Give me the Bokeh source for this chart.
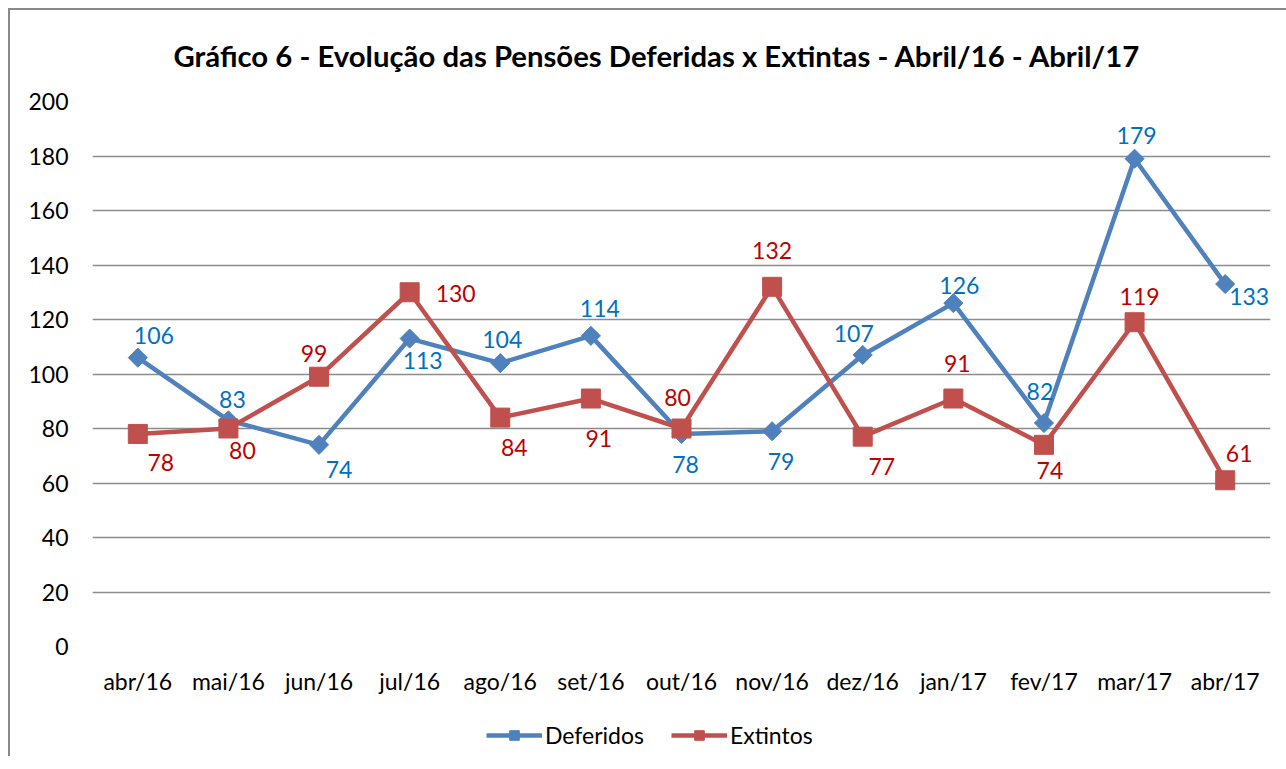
import math
from bokeh.plotting import figure
from bokeh.layouts import column
from bokeh.models import (ColumnDataSource, FactorRange, Range1d, LabelSet, Legend,
                          LegendItem, SingleIntervalTicker)
from bokeh.core.properties import value
from bokeh.embed import file_html
from bokeh.resources import INLINE

# ---- data ----
months = ["abr/16", "mai/16", "jun/16", "jul/16", "ago/16", "set/16", "out/16",
          "nov/16", "dez/16", "jan/17", "fev/17", "mar/17", "abr/17"]
deferidos = [106, 83, 74, 113, 104, 114, 78, 79, 107, 126, 82, 179, 133]
extintos = [78, 80, 99, 130, 84, 91, 80, 132, 77, 91, 74, 119, 61]
series_names = ["Deferidos", "Extintos"]

# label placement (screen px offsets from each point)
def_dx = [16, 4, 20, 13, 2, 9, 4, 9, -9, 6, -4, 2, 24]
def_dy = [22, 21, -25, -22, 24, 27, -31, -30, 21, 18, 32, 23, -12]
ext_dx = [23, 14, -5, 46, 14, 8, -4, 0, 19, 4, 6, 5, 14]
ext_dy = [-29, -22, 23, -1, -30, -40, 31, 36, -30, 35, -26, 26, 27]

BLUE = "#4F81BD"
RED = "#C0504D"
BLUE_TXT = "#0070C0"
RED_TXT = "#C00000"
FONT = "Lato"

src_d = ColumnDataSource(dict(x=months, y=deferidos, t=[str(v) for v in deferidos],
                              dx=def_dx, dy=def_dy))
src_e = ColumnDataSource(dict(x=months, y=extintos, t=[str(v) for v in extintos],
                              dx=ext_dx, dy=ext_dy))

p = figure(frame_width=1178, frame_height=545,
           x_range=FactorRange(*months, range_padding=0),
           y_range=Range1d(0, 200), output_backend="svg", toolbar_location=None,
           min_border_left=82, min_border_right=16, min_border_top=91, min_border_bottom=70)

p.title.text = "Gráfico 6 - Evolução das Pensões Deferidas x Extintas - Abril/16 - Abril/17"
p.title.text_font = FONT
p.title.text_font_size = "29.3px"
p.title.text_font_style = "bold"
p.title.align = "left"
p.title.offset = 81
p.title.vertical_align = "top"
p.title.text_color = "#000000"
p.title.standoff = 54

p.outline_line_color = None
p.background_fill_color = "white"
p.border_fill_color = "white"

p.xgrid.grid_line_color = None
p.ygrid.grid_line_color = "#8C8C8C"
p.ygrid.grid_line_width = 1.6
p.yaxis.ticker = SingleIntervalTicker(interval=20)

for ax in (p.xaxis, p.yaxis):
    ax.axis_line_color = None
    ax.major_tick_line_color = None
    ax.minor_tick_line_color = None
    ax.major_tick_out = 0
    ax.major_tick_in = 0
    ax.major_label_text_font = FONT
    ax.major_label_text_font_size = "23px"
    ax.major_label_text_color = "#000000"
p.yaxis.major_label_standoff = 20
p.xaxis.major_label_standoff = 20

def draw_series(fig, src, color, marker, size, angle):
    ln = fig.line("x", "y", source=src, line_color=color, line_width=4.5)
    sc = fig.scatter("x", "y", source=src, marker=marker, angle=angle, size=size,
                     fill_color=color, line_color=color)
    return ln, sc

draw_series(p, src_d, BLUE, "square", 13.5, math.pi / 4)
draw_series(p, src_e, RED, "square", 19, 0)

p.add_layout(LabelSet(x="x", y="y", text="t", source=src_d, x_offset="dx", y_offset="dy",
                      text_align="center", text_baseline="middle", text_font=value(FONT),
                      text_font_size="23px", text_color=BLUE_TXT))
p.add_layout(LabelSet(x="x", y="y", text="t", source=src_e, x_offset="dx", y_offset="dy",
                      text_align="center", text_baseline="middle", text_font=value(FONT),
                      text_font_size="23px", text_color=RED_TXT))

# ---- legend strip (small figure below the chart; its series lie outside its view) ----
lg = figure(width=1276, height=40, x_range=FactorRange(*months, range_padding=0),
            y_range=Range1d(-1000, -999),
            output_backend="svg", toolbar_location=None,
            x_axis_location=None, y_axis_location=None,
            min_border_left=0, min_border_right=0, min_border_top=0, min_border_bottom=0)
lg.outline_line_color = None
lg.xgrid.grid_line_color = None
lg.ygrid.grid_line_color = None
gl_d, gs_d = draw_series(lg, src_d, BLUE, "square", 13.5, math.pi / 4)
gl_e, gs_e = draw_series(lg, src_e, RED, "square", 19, 0)

legend = Legend(items=[LegendItem(label=series_names[0], renderers=[gl_d, gs_d]),
                       LegendItem(label=series_names[1], renderers=[gl_e, gs_e])],
                orientation="horizontal", location=(394, 7),
                label_text_font=FONT, label_text_font_size="23px",
                label_text_color="#000000", glyph_width=56, glyph_height=24,
                label_standoff=3, spacing=27, border_line_color=None,
                background_fill_alpha=0, padding=4, margin=0)
lg.add_layout(legend, "center")

layout = column(p, lg, spacing=0,
                styles={"margin-left": "8px", "margin-top": "8px",
                        "border-left": "2px solid #898989", "border-top": "2px solid #898989"})

open("out.html", "w").write(file_html(layout, INLINE))
